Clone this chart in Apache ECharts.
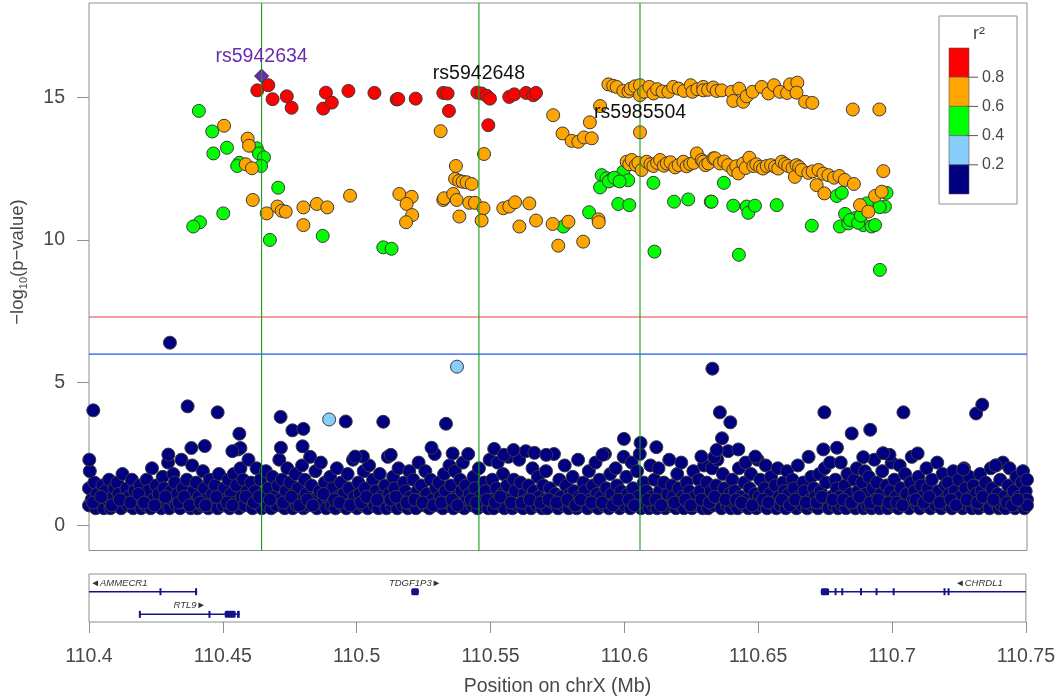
<!DOCTYPE html>
<html><head><meta charset="utf-8">
<script src="https://cdn.jsdelivr.net/npm/echarts@6.0.0/dist/echarts.min.js"></script>
<style>html,body{margin:0;padding:0;background:#fff}#chart{width:1058px;height:700px}</style>
</head><body><div id="chart"></div>
<script>
// ---------- DATA ----------
const xRange = [110.4, 110.75];
const yRange = [-0.88, 18.3];
const yTicks = [0, 5, 10, 15];
const thresholds = [7.3, 6];
const snpNames = ['rs5942634', 'rs5942648', 'rs5985504'];
const snpPos = [110.4644, 110.5455, 110.6056];
const snpLogP = [15.74, 15.13, 13.77];
const ldBreaks = [0, 0.2, 0.4, 0.6, 0.8, 1.0];
const ldColors = ['#000080', '#87cefa', '#00ff00', '#ffa500', '#ff0000'];

const navy = [
[110.4,0.7],[110.4,1.3],[110.4003,1.9],[110.4001,2.3],[110.401,0.9],[110.402,1.5],[110.4025,0.6],[110.403,1.1],[110.404,0.8],[110.405,1.4],[110.4055,0.6],[110.406,1.2],[110.407,0.9],[110.4075,1.6],[110.408,0.6],[110.409,1.0],[110.4095,1.3],
[110.41,0.7],[110.4105,1.5],[110.411,1.1],[110.412,0.6],[110.4125,1.8],[110.413,0.9],[110.414,1.3],[110.4145,0.7],[110.415,1.0],[110.416,1.6],[110.4165,0.6],[110.417,1.2],[110.418,0.8],[110.419,1.4],[110.4195,0.6],
[110.42,1.0],[110.421,0.7],[110.4215,1.6],[110.422,1.2],[110.423,0.6],[110.4235,2.0],[110.424,0.9],[110.425,1.4],[110.4255,0.7],[110.426,1.1],[110.427,0.6],[110.4275,1.7],[110.428,1.3],[110.429,0.8],[110.4295,2.2],
[110.43,0.6],[110.4305,1.2],[110.431,0.9],[110.4315,1.8],[110.432,1.5],[110.4325,0.7],[110.433,1.1],[110.434,0.6],[110.4345,2.3],[110.435,1.3],[110.436,0.8],[110.4365,1.6],[110.437,1.0],[110.438,0.6],[110.4385,2.1],[110.439,1.2],[110.4395,0.8],
[110.44,1.5],[110.4405,0.6],[110.441,1.0],[110.442,0.7],[110.4425,1.9],[110.443,1.3],[110.444,0.9],[110.4445,0.6],[110.445,1.6],[110.446,1.1],[110.4465,0.7],[110.447,1.4],[110.448,0.6],[110.4485,1.8],[110.449,1.0],
[110.45,0.7],[110.4505,1.3],[110.451,0.9],[110.452,1.6],[110.4525,0.6],[110.453,1.1],[110.454,1.8],[110.4545,0.8],[110.455,1.4],[110.456,0.6],[110.4565,2.0],[110.457,1.0],[110.4575,1.6],[110.458,0.7],[110.459,1.2],[110.4595,2.3],
[110.46,0.9],[110.4605,1.5],[110.461,0.6],[110.462,1.2],[110.4625,2.0],[110.463,0.8],[110.464,1.6],[110.4645,0.6],[110.465,1.1],[110.466,1.9],[110.4665,0.7],[110.467,1.3],[110.468,0.6],[110.4685,1.7],[110.469,1.0],
[110.47,0.7],[110.4705,1.4],[110.471,2.3],[110.4715,0.9],[110.472,1.6],[110.473,0.6],[110.4735,1.2],[110.474,2.0],[110.4745,0.8],[110.475,1.5],[110.476,0.6],[110.4765,1.1],[110.477,1.8],[110.4775,0.7],[110.478,1.3],[110.479,0.9],[110.4795,2.1],
[110.48,0.6],[110.4805,1.6],[110.481,1.1],[110.482,0.7],[110.4825,2.4],[110.483,1.4],[110.484,0.9],[110.4845,1.9],[110.485,0.6],[110.486,1.2],[110.4865,2.2],[110.487,0.8],[110.488,1.5],[110.4885,0.6],[110.489,1.0],
[110.49,1.7],[110.4905,0.7],[110.491,1.3],[110.492,0.6],[110.4925,2.0],[110.493,1.0],[110.494,1.5],[110.4945,0.7],[110.495,1.1],[110.496,0.6],[110.4965,1.8],[110.497,1.3],[110.498,0.8],[110.4985,2.3],[110.499,1.0],
[110.5,0.6],[110.5005,1.5],[110.501,1.1],[110.502,0.7],[110.5025,1.9],[110.503,1.3],[110.504,0.6],[110.5045,2.1],[110.505,0.9],[110.506,1.6],[110.5065,0.7],[110.507,1.2],[110.508,0.6],[110.5085,1.8],[110.509,1.0],
[110.51,0.8],[110.5105,1.4],[110.511,0.6],[110.5115,2.4],[110.512,1.1],[110.513,0.7],[110.5135,1.7],[110.514,1.3],[110.515,0.6],[110.5155,2.0],[110.516,1.0],[110.517,0.7],[110.5175,1.5],[110.518,1.2],[110.519,0.6],[110.5195,1.9],
[110.52,1.0],[110.5205,0.7],[110.521,1.6],[110.522,0.6],[110.5225,1.2],[110.523,2.2],[110.5235,0.9],[110.524,1.4],[110.525,0.7],[110.5255,1.9],[110.526,1.1],[110.527,0.6],[110.5275,1.6],[110.528,0.9],[110.529,2.5],[110.5295,1.3],
[110.53,0.7],[110.5305,1.5],[110.531,1.0],[110.532,0.6],[110.5325,1.8],[110.533,1.2],[110.534,0.8],[110.5345,2.1],[110.535,1.4],[110.536,0.6],[110.5365,1.9],[110.537,1.0],[110.538,0.7],[110.5385,1.6],[110.539,1.2],[110.5395,2.2],
[110.54,0.6],[110.5405,1.4],[110.541,0.9],[110.5415,2.5],[110.542,1.1],[110.543,0.7],[110.5435,1.7],[110.544,1.3],[110.545,0.6],[110.5455,2.0],[110.546,1.0],[110.547,0.7],[110.5475,1.5],[110.548,1.2],[110.549,0.6],[110.5495,2.3],
[110.55,0.9],[110.5505,1.6],[110.551,0.6],[110.552,1.3],[110.5525,2.2],[110.553,0.8],[110.554,1.1],[110.5545,1.8],[110.555,0.6],[110.556,1.4],[110.5565,2.4],[110.557,0.9],[110.558,0.6],[110.5585,1.6],[110.559,1.2],
[110.56,0.7],[110.5605,2.3],[110.561,1.5],[110.562,0.6],[110.5625,1.1],[110.563,2.6],[110.5635,0.9],[110.564,1.4],[110.565,0.6],[110.5655,2.0],[110.566,1.2],[110.567,0.7],[110.5675,1.7],[110.568,1.0],[110.569,0.6],[110.5695,1.4],
[110.57,0.9],[110.5705,1.9],[110.571,0.6],[110.572,1.3],[110.573,0.8],[110.5735,2.5],[110.574,1.1],[110.575,0.6],[110.5755,1.6],[110.576,1.0],[110.577,0.7],[110.5775,2.1],[110.578,1.4],[110.579,0.6],[110.5795,1.1],
[110.58,0.8],[110.5805,1.7],[110.581,1.2],[110.582,0.6],[110.5825,2.3],[110.583,1.0],[110.584,0.7],[110.5845,1.5],[110.585,1.2],[110.586,0.6],[110.5865,1.9],[110.587,0.9],[110.588,1.4],[110.5885,0.7],[110.589,2.2],[110.5895,1.1],
[110.59,0.6],[110.5905,1.6],[110.591,1.0],[110.592,0.7],[110.5925,2.5],[110.593,1.3],[110.594,0.6],[110.5945,1.8],[110.595,1.1],[110.596,0.8],[110.5965,2.0],[110.597,1.4],[110.598,0.6],[110.5985,1.2],[110.599,0.9],[110.5995,2.4],
[110.6,0.7],[110.6005,1.7],[110.601,1.1],[110.602,0.6],[110.6025,2.2],[110.603,1.3],[110.604,0.8],[110.6045,1.9],[110.605,1.0],[110.6055,2.5],[110.606,0.6],[110.607,1.5],[110.6075,0.8],[110.608,1.2],[110.609,0.6],[110.6095,2.1],
[110.61,1.0],[110.6105,0.7],[110.611,1.6],[110.612,0.6],[110.6125,2.0],[110.613,1.2],[110.614,0.8],[110.6145,1.5],[110.615,0.6],[110.616,1.1],[110.6165,2.3],[110.617,0.7],[110.6175,1.4],[110.618,1.0],[110.619,0.6],[110.6195,1.8],
[110.62,1.3],[110.6205,0.7],[110.621,2.2],[110.6215,1.0],[110.622,0.6],[110.623,1.5],[110.6235,0.8],[110.624,1.2],[110.625,0.6],[110.6255,1.9],[110.626,1.0],[110.627,0.7],[110.6275,1.6],[110.628,1.2],[110.629,0.6],[110.6295,2.1],
[110.63,0.9],[110.6305,1.5],[110.631,0.6],[110.632,1.2],[110.6325,2.0],[110.633,0.7],[110.634,1.4],[110.6345,2.3],[110.635,1.0],[110.636,0.6],[110.6365,1.8],[110.637,1.3],[110.638,0.7],[110.6385,2.6],[110.639,1.1],[110.6395,0.6],
[110.64,1.6],[110.6405,0.8],[110.641,1.2],[110.642,0.6],[110.6425,2.0],[110.643,1.0],[110.644,0.7],[110.6445,1.5],[110.645,2.2],[110.6455,0.9],[110.646,0.6],[110.6465,1.3],[110.647,1.8],[110.648,0.8],[110.6485,1.1],[110.649,0.6],[110.6495,2.3],
[110.65,1.0],[110.6505,1.6],[110.651,0.7],[110.652,1.3],[110.6525,2.1],[110.653,0.6],[110.654,1.1],[110.6545,1.7],[110.655,0.8],[110.656,1.4],[110.6565,0.6],[110.657,2.0],[110.6575,1.0],[110.658,0.7],[110.659,1.5],[110.6595,1.2],
[110.66,0.6],[110.6605,1.9],[110.661,1.1],[110.662,0.8],[110.6625,1.6],[110.663,1.3],[110.664,0.6],[110.6645,2.1],[110.665,1.0],[110.666,0.7],[110.6665,1.5],[110.667,1.2],[110.668,0.6],[110.6685,2.4],[110.669,0.9],[110.6695,1.7],
[110.67,0.7],[110.6705,1.3],[110.671,1.0],[110.672,0.6],[110.6725,1.8],[110.673,1.2],[110.674,0.8],[110.6745,2.0],[110.675,1.5],[110.676,0.6],[110.6765,2.2],[110.677,1.0],[110.678,0.7],[110.6785,1.6],[110.679,1.3],[110.6795,0.6],
[110.68,1.0],[110.6805,2.2],[110.681,0.7],[110.682,1.4],[110.6825,0.6],[110.683,1.8],[110.684,1.1],[110.685,0.7],[110.6855,1.6],[110.686,0.6],[110.6865,2.0],[110.687,1.2],[110.688,0.8],[110.6885,1.5],[110.689,0.6],[110.6895,1.9],
[110.69,1.1],[110.6905,0.7],[110.691,1.7],[110.692,0.6],[110.6925,1.3],[110.693,2.3],[110.6935,0.9],[110.694,1.5],[110.695,0.6],[110.6955,1.1],[110.696,1.9],[110.697,0.8],[110.6975,1.4],[110.698,0.6],[110.699,1.2],[110.6995,2.2],
[110.7,0.7],[110.7005,1.6],[110.701,1.0],[110.702,0.6],[110.7025,2.1],[110.703,1.3],[110.704,0.8],[110.7045,1.8],[110.705,1.1],[110.706,0.6],[110.7065,1.5],[110.707,2.4],[110.7075,0.9],[110.708,1.2],[110.709,0.7],[110.7095,1.7],
[110.71,0.6],[110.7105,1.4],[110.711,1.0],[110.712,0.7],[110.7125,2.0],[110.713,1.3],[110.714,0.6],[110.7145,1.6],[110.715,1.0],[110.716,0.7],[110.7165,2.2],[110.717,1.2],[110.718,0.6],[110.7185,1.8],[110.719,0.9],[110.7195,1.4],
[110.72,0.7],[110.7205,1.5],[110.721,1.1],[110.722,0.6],[110.7225,1.9],[110.723,1.2],[110.724,0.8],[110.7245,1.6],[110.725,1.0],[110.726,0.6],[110.7265,2.0],[110.727,1.3],[110.728,0.7],[110.7285,1.7],[110.729,1.0],[110.7295,0.6],
[110.73,1.4],[110.7305,0.8],[110.731,1.1],[110.732,0.6],[110.7325,1.8],[110.733,1.2],[110.734,0.7],[110.7345,1.5],[110.735,1.0],[110.736,0.6],[110.7365,2.0],[110.737,1.3],[110.738,0.8],[110.7385,2.1],[110.739,1.1],[110.7395,0.6],
[110.74,1.6],[110.7405,0.7],[110.741,2.2],[110.7415,1.0],[110.742,0.6],[110.743,1.4],[110.7435,2.0],[110.744,0.9],[110.745,1.2],[110.7455,0.6],[110.746,1.7],[110.747,1.0],[110.7475,0.7],[110.748,1.5],[110.7485,1.9],[110.749,0.6],[110.7495,1.2],[110.75,0.9],[110.75,1.6],[110.75,0.7],
[110.4015,0.8],[110.4045,1.0],[110.4085,0.7],[110.4115,0.9],[110.4155,0.8],[110.4185,1.1],[110.4205,0.8],[110.4245,0.7],[110.4285,1.0],[110.4335,0.8],[110.4355,1.0],[110.4375,0.7],
[110.4415,0.8],[110.4435,0.7],[110.4475,1.0],[110.4515,0.8],[110.4535,0.7],[110.4585,1.0],[110.4615,0.8],[110.4635,1.0],[110.4675,0.9],[110.4725,0.8],[110.4755,1.0],[110.4785,0.7],
[110.4815,0.9],[110.4835,0.7],[110.4875,1.1],[110.4915,0.9],[110.4935,0.8],[110.4975,0.7],[110.5015,0.8],[110.5035,1.0],[110.5075,0.9],[110.5125,0.9],[110.5145,1.0],[110.5185,0.8],
[110.5215,0.9],[110.5245,0.8],[110.5285,0.7],[110.5315,0.8],[110.5355,0.9],[110.5375,0.7],[110.5425,0.9],[110.5445,0.8],[110.5485,0.9],[110.5515,0.8],[110.5535,1.0],[110.5575,0.8],
[110.5615,0.8],[110.5645,0.9],[110.5685,0.8],[110.5715,0.9],[110.5745,0.8],[110.5785,0.9],[110.5815,0.7],[110.5835,0.9],[110.5875,0.8],[110.5915,0.8],[110.5955,0.7],[110.5975,0.9],
[110.6015,0.9],[110.6035,0.7],[110.6085,0.9],[110.6115,0.9],[110.6135,0.7],[110.6185,0.8],[110.6225,0.9],[110.6245,0.7],[110.6285,0.9],[110.6315,0.8],[110.6335,1.0],[110.6375,0.9],
[110.6415,0.9],[110.6435,0.8],[110.6475,0.7],[110.6515,0.9],[110.6535,0.8],[110.6585,0.9],[110.6615,0.7],[110.6635,0.9],[110.6675,0.8],[110.6715,0.8],[110.6735,1.0],[110.6775,0.9],
[110.6815,0.9],[110.6845,0.8],[110.6875,1.0],[110.6915,0.8],[110.6945,0.9],[110.6985,0.8],[110.7015,0.8],[110.7035,0.7],[110.7085,0.9],[110.7115,0.8],[110.7135,1.0],[110.7175,0.8],
[110.7215,0.9],[110.7235,0.7],[110.7275,0.9],[110.7315,0.8],[110.7335,1.0],[110.7375,0.9],[110.7425,0.8],[110.7445,0.7],[110.7465,0.9],
[110.4302,6.4],[110.4016,4.03],[110.4368,4.17],[110.448,3.96],[110.4561,3.21],[110.4715,3.8],[110.4759,3.33],[110.48,3.38],[110.4958,3.64],[110.5098,3.63],[110.5332,3.56],[110.5357,2.52],[110.5512,2.68],[110.4716,2.72],[110.4797,2.77],[110.4296,2.48],[110.4557,2.66],
[110.6326,5.49],[110.6354,3.96],[110.6393,3.61],[110.6362,3.05],[110.6744,3.96],[110.6846,3.22],[110.6915,3.35],[110.7039,3.96],[110.731,3.92],[110.7333,4.23],[110.5996,3.03],[110.6058,2.89],[110.6117,2.74],[110.6333,2.39],[110.6423,2.66],[110.674,2.66],[110.6889,2.39],[110.7092,2.52],[110.7262,1.96],[110.7382,2.1],
[110.5548,2.47],[110.5584,2.64],[110.5662,2.54],[110.5278,2.72],[110.4382,2.71],[110.4432,2.78],[110.4565,2.71],[110.4535,2.6],[110.5022,2.41],[110.5126,2.47],[110.4993,2.41],[110.5706,2.47],[110.5916,2.47],[110.6285,2.41],[110.6342,2.64],[110.6486,2.41],[110.6791,2.72],[110.6987,2.47],[110.6963,2.53]
];
const lightBlue = [[110.4896,3.71],[110.5373,5.56]];
const green = [
[110.4410,14.52],[110.4460,13.80],[110.4515,13.23],[110.4464,13.03],[110.4626,13.21],[110.4634,13.03],[110.4653,12.89],[110.4561,12.70],[110.4553,12.59],[110.4642,12.59],[110.4706,11.83],[110.4501,10.93],[110.4414,10.62],[110.4389,10.47],[110.4675,10.00],[110.4872,10.14],[110.5098,9.74],[110.5129,9.69],
[110.5770,10.47],[110.5866,10.97],[110.5913,12.27],[110.5931,12.16],[110.5950,12.12],[110.5969,12.10],[110.5987,12.21],[110.5994,12.39],[110.6012,12.09],[110.5907,11.84],[110.5975,11.26],[110.6016,11.22],[110.5940,12.05],[110.5960,12.18],[110.5980,12.05],
[110.6106,12.00],[110.6183,11.34],[110.6236,11.42],[110.6320,11.34],[110.6110,9.59],[110.6369,12.00],[110.6323,11.34],[110.6404,11.20],[110.6454,11.17],[110.6460,10.95],[110.6485,11.20],[110.6566,11.22],[110.6425,9.48],[110.6697,10.50],
[110.6790,11.54],[110.6809,11.65],[110.6821,10.91],[110.6802,10.47],[110.6833,10.58],[110.6858,10.76],[110.6889,10.52],[110.6920,10.47],[110.6933,10.52],[110.6902,11.28],[110.6976,11.65],[110.6970,11.17],[110.6951,8.95],[110.6840,10.70],[110.6870,10.60],[110.6880,10.85],[110.6950,11.15]
];
const orange = [
[110.4504,14.00],[110.4592,13.55],[110.4597,13.30],[110.4585,12.65],[110.4608,12.51],[110.4611,11.40],[110.4663,10.93],[110.4703,11.17],[110.4719,11.02],[110.4734,10.99],[110.4800,11.14],[110.4850,11.26],[110.4889,11.14],[110.4974,11.55],[110.4800,10.52],
[110.5158,11.61],[110.5204,11.51],[110.5185,11.26],[110.5206,10.87],[110.5183,10.62],[110.5312,13.81],[110.5322,11.40],[110.5474,13.01],[110.5369,12.59],[110.5366,12.14],[110.5381,12.07],[110.5394,12.04],[110.5409,12.02],[110.5428,11.96],
[110.5325,11.46],[110.5359,11.61],[110.5372,11.40],[110.5419,11.30],[110.5440,11.30],[110.5472,11.11],[110.5382,10.82],[110.5465,10.68],[110.5546,11.11],[110.5568,11.17],[110.5590,11.32],[110.5643,11.28],[110.5606,10.47],[110.5668,10.68],
[110.5730,10.56],[110.5789,10.64],[110.5751,9.80],[110.5844,9.94],[110.5901,10.72],[110.5902,10.62],[110.5732,14.37],[110.5767,13.73],[110.5801,13.47],[110.5826,13.44],[110.5847,13.59],[110.5876,13.56],[110.5869,14.12],[110.5907,14.69],[110.6056,13.77],
[110.5938,15.45],[110.5956,15.40],[110.5969,15.36],[110.5994,15.22],[110.6013,15.20],[110.6021,15.30],[110.6037,15.38],[110.6056,15.42],[110.6056,15.07],[110.6071,15.19],[110.6091,15.36],[110.6106,15.13],[110.6120,15.28],[110.6140,15.20],[110.6162,15.19],[110.6180,15.36],[110.6200,15.30],[110.6220,15.22],
[110.6245,15.42],[110.6252,15.19],[110.6270,15.28],[110.6292,15.36],[110.6292,15.24],[110.6310,15.26],[110.6329,15.34],[110.6342,15.22],[110.6361,15.24],[110.6398,15.19],[110.6404,14.87],[110.6426,15.30],[110.6441,14.84],[110.6454,15.03],[110.6476,15.19],
[110.6510,15.36],[110.6535,15.13],[110.6556,15.42],[110.6578,15.19],[110.6605,15.15],[110.6616,15.45],[110.6643,15.51],[110.6640,15.16],[110.6672,14.84],[110.6699,14.80],[110.6850,14.57],[110.6949,14.57],
[110.6006,12.74],[110.6016,12.65],[110.6025,12.80],[110.6041,12.62],[110.6050,12.70],[110.6062,12.45],[110.6081,12.74],[110.6095,12.65],[110.6106,12.59],[110.6120,12.70],[110.6131,12.80],[110.6145,12.60],[110.6156,12.68],[110.6170,12.72],[110.6187,12.54],
[110.6200,12.62],[110.6218,12.74],[110.6230,12.58],[110.6243,12.66],[110.6256,12.70],[110.6268,13.03],[110.6286,12.80],[110.6292,12.74],[110.6300,12.62],[110.6311,12.68],[110.6330,12.86],[110.6336,12.86],[110.6354,12.68],[110.6370,12.75],[110.6385,12.62],
[110.6404,12.45],[110.6415,12.58],[110.6423,12.33],[110.6441,12.68],[110.6450,12.52],[110.6464,12.88],[110.6479,12.59],[110.6490,12.65],[110.6504,12.56],[110.6515,12.50],[110.6529,12.59],[110.6545,12.62],[110.6560,12.56],[110.6572,12.50],[110.6585,12.74],
[110.6597,12.66],[110.6609,12.59],[110.6625,12.52],[110.6640,12.62],[110.6634,12.21],[110.6650,12.55],[110.6659,12.45],[110.6684,12.35],[110.6700,12.40],[110.6722,12.45],[110.6715,11.92],[110.6740,12.32],[110.6759,12.27],[110.6744,11.63],[110.6780,12.18],
[110.6800,12.24],[110.6820,12.10],[110.6854,11.96],[110.6964,12.41],[110.6933,11.54],[110.6958,11.69],[110.6877,11.22],[110.6908,10.99]
];
const red = [
[110.4628,15.24],[110.4669,15.42],[110.4685,14.93],[110.4738,15.03],[110.4756,14.63],[110.4874,14.60],[110.4884,15.16],[110.4906,14.81],[110.4968,15.22],[110.5065,15.15],[110.5148,14.92],[110.5154,14.94],[110.5219,14.95],
[110.5322,15.15],[110.5338,15.13],[110.5343,14.52],[110.5449,15.16],[110.5465,15.13],[110.5484,15.05],[110.5496,14.95],[110.5490,14.02],[110.5568,15.01],[110.5587,15.10],[110.5631,15.15],[110.5658,15.07],[110.5668,15.15]
];
const leadSnp = [[110.4644, 15.74]];

// genes (Mb)
const geneNames = ['AMMECR1', 'RTL9', 'TDGF1P3', 'CHRDL1'];
const geneStrand = ['-', '+', '+', '-'];
const geneStart = [110.382, 110.4190, 110.5204, 110.6734];
const geneEnd = [110.4404, 110.4563, 110.5232, 110.7916];
const geneRow = [1, 2, 1, 1];
const geneExons = [
  [[110.4267,110.4271],[110.4400,110.4404]],
  [[110.4190,110.4193],[110.4450,110.4454],[110.4507,110.4548],[110.4553,110.4563]],
  [[110.5204,110.5232]],
  [[110.6734,110.6765],[110.6789,110.6792],[110.6814,110.6817],[110.6884,110.6887],[110.6942,110.6945],[110.7006,110.7009],[110.7196,110.7199],[110.7211,110.7214]]
];

// ---------- CHART ----------
const FONT = '"Liberation Sans", Arial, Helvetica, sans-serif';
const TXT = '#484848';
const FRAME = '#8e8e8e';
const FS = 19.5;
const chart = echarts.init(document.getElementById('chart'), null, {renderer: 'canvas'});

function pts(name, data, color, z) {
  return {name, type: 'scatter', xAxisIndex: 0, yAxisIndex: 0, data, symbolSize: 13, silent: true, z,
    itemStyle: {color, borderColor: '#3a3a3a', borderWidth: 1, opacity: 1}};
}
function refLine(data, color, z) {
  return {type: 'line', xAxisIndex: 0, yAxisIndex: 0, data, symbol: 'none', silent: true, z,
    lineStyle: {color, width: 1.1, type: 'solid', opacity: 1}, animation: false};
}
const clampX = v => Math.min(xRange[1], Math.max(xRange[0], v));

const legendEls = [];
const lgX = 939, lgY = 16, barX = 949, barTop = 48, barW = 20, segH = 29.2;
legendEls.push({type: 'rect', shape: {x: lgX, y: lgY, width: 78, height: 188}, style: {fill: '#fff', stroke: FRAME, lineWidth: 1}, z: 20});
legendEls.push({type: 'text', x: 979, y: 34, style: {text: 'r²', fontSize: 18, fontFamily: FONT, fill: TXT, align: 'center', verticalAlign: 'middle'}, z: 21});
for (let i = 0; i < ldColors.length; i++) {
  const k = ldColors.length - 1 - i;
  legendEls.push({type: 'rect', shape: {x: barX, y: barTop + i * segH, width: barW, height: segH}, style: {fill: ldColors[k], stroke: '#555', lineWidth: 0.6}, z: 21});
}
for (let j = 1; j < ldBreaks.length - 1; j++) {
  const yy = barTop + (ldBreaks.length - 1 - j) * segH;
  legendEls.push({type: 'line', shape: {x1: barX + barW - 2, y1: yy, x2: barX + barW + 9, y2: yy}, style: {stroke: '#555', lineWidth: 1}, z: 22});
  legendEls.push({type: 'text', x: 982, y: yy, style: {text: ldBreaks[j].toFixed(1), fontSize: 16, fontFamily: FONT, fill: TXT, align: 'left', verticalAlign: 'middle'}, z: 22});
}
legendEls.push({type: 'text', x: 18, y: 262, rotation: Math.PI / 2,
  style: {text: '−log{s|10}(p−value)', fontSize: 18.5, fontFamily: FONT, fill: TXT, align: 'center', verticalAlign: 'middle',
    rich: {s: {fontSize: 11, fontFamily: FONT, fill: TXT, verticalAlign: 'bottom', lineHeight: 11, padding: [0, 0, -2, 0]}}}});

const series = [
  pts('r2 < 0.2', navy, ldColors[0], 2),
  pts('0.2-0.4', lightBlue, ldColors[1], 3),
  pts('0.4-0.6', green, ldColors[2], 4),
  pts('0.6-0.8', orange, ldColors[3], 5),
  pts('0.8-1', red, ldColors[4], 6),
  {name: 'lead', type: 'scatter', data: leadSnp, symbol: 'diamond', symbolSize: 14, silent: true, z: 7,
    itemStyle: {color: '#6a2ab0', borderColor: '#3a1a5a', borderWidth: 1, opacity: 1}},
  refLine([[xRange[0], thresholds[0]], [xRange[1], thresholds[0]]], '#ee3b3b', 8),
  refLine([[xRange[0], thresholds[1]], [xRange[1], thresholds[1]]], '#2255ee', 8)
];
snpPos.forEach(x => series.push(refLine([[x, yRange[0]], [x, yRange[1]]], '#14a014', 8)));
series.push({name: 'snp labels', type: 'scatter', silent: true, z: 10, symbolSize: 13, clip: false,
  itemStyle: {color: 'rgba(0,0,0,0)', borderWidth: 0, opacity: 1},
  data: snpNames.map((n, i) => ({value: [snpPos[i], snpLogP[i]], name: n,
    label: {color: i === 0 ? '#6a2ab0' : '#111'}})),
  label: {show: true, position: 'top', distance: 3, formatter: p => p.name, fontSize: FS, fontFamily: FONT, opacity: 1}
});
series.push({name: 'genes', type: 'custom', xAxisIndex: 1, yAxisIndex: 1, silent: true, clip: true,
  data: geneNames.map((n, i) => [geneStart[i], geneEnd[i], geneRow[i], i]),
  renderItem: (params, api) => {
    const i = params.dataIndex;
    const col = '#12128a';
    const row = geneRow[i];
    const a = api.coord([clampX(geneStart[i]), row]);
    const b = api.coord([clampX(geneEnd[i]), row]);
    const children = [{type: 'line', shape: {x1: a[0], y1: a[1], x2: b[0], y2: b[1]}, style: {stroke: col, lineWidth: 1.5}}];
    geneExons[i].forEach(e => {
      const p = api.coord([clampX(e[0]), row]);
      const q = api.coord([clampX(e[1]), row]);
      const w = Math.max(2, q[0] - p[0]);
      children.push({type: 'rect', shape: {x: p[0] - (w > 2 ? 0 : 1), y: p[1] - 3.5, width: w, height: 7, r: w > 4 ? 1.5 : 0}, style: {fill: col}});
    });
    const mid = api.coord([(geneStart[i] + geneEnd[i]) / 2, row]);
    const txt = geneStrand[i] === '-' ? '◄' + geneNames[i] : geneNames[i] + '►';
    children.push({type: 'text', x: mid[0], y: mid[1] - 8.5,
      style: {text: txt, fontSize: 9.5, fontStyle: 'italic', fontFamily: FONT, fill: '#333', align: 'center', verticalAlign: 'middle'}});
    return {type: 'group', children};
  }
});

const option = {
  animation: false,
  backgroundColor: '#ffffff',
  textStyle: {fontFamily: FONT},
  grid: [
    {left: 89, top: 3, width: 938, height: 547.5, show: true, borderColor: FRAME, borderWidth: 1, backgroundColor: 'transparent'},
    {left: 89, top: 574, width: 938, height: 48, show: true, borderColor: FRAME, borderWidth: 1, backgroundColor: 'transparent'}
  ],
  xAxis: [
    {gridIndex: 0, type: 'value', min: xRange[0], max: xRange[1], show: false},
    {gridIndex: 1, type: 'value', min: xRange[0], max: xRange[1], interval: 0.05, position: 'bottom',
      axisLine: {show: false}, splitLine: {show: false},
      axisTick: {show: true, length: 11, lineStyle: {color: FRAME, width: 1}},
      axisLabel: {margin: 25, fontSize: FS, color: TXT, fontFamily: FONT, formatter: v => String(parseFloat(v.toFixed(2)))},
      name: 'Position on chrX (Mb)', nameLocation: 'middle', nameGap: 55,
      nameTextStyle: {fontSize: FS, color: TXT, fontFamily: FONT}}
  ],
  yAxis: [
    {gridIndex: 0, type: 'value', min: yRange[0], max: yRange[1], axisLine: {show: false}, splitLine: {show: false},
      axisTick: {show: true, length: 12, customValues: yTicks, lineStyle: {color: FRAME, width: 1}},
      axisLabel: {customValues: yTicks, margin: 24, fontSize: FS, color: TXT, fontFamily: FONT}},
    {gridIndex: 1, type: 'value', min: 0.216, max: 2.339, inverse: true, show: false}
  ],
  graphic: legendEls,
  series
};
chart.setOption(option);
</script>
</body></html>
